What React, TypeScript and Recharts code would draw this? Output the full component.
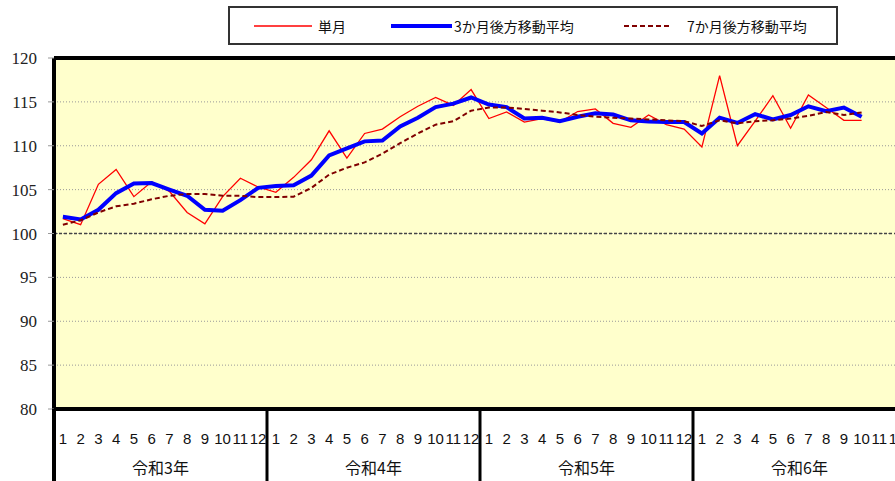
import React from "react";
import {
  ComposedChart,
  Line,
  XAxis,
  YAxis,
  CartesianGrid,
  ReferenceLine,
} from "recharts";

const years = ["令和3年", "令和4年", "令和5年", "令和6年"];
const months = ["1", "2", "3", "4", "5", "6", "7", "8", "9", "10", "11", "12"];
const yTicks = [80, 85, 90, 95, 100, 105, 110, 115, 120];

// 単月
const single = [
  101.7, 101.0, 105.6, 107.3, 104.2, 105.9, 104.8, 102.4, 101.1, 104.2, 106.3, 105.3,
  104.7, 106.4, 108.4, 111.7, 108.6, 111.4, 111.9, 113.3, 114.5, 115.5, 114.6, 116.4,
  113.1, 113.85, 112.7, 113.1, 112.7, 113.9, 114.2, 112.55, 112.1, 113.5, 112.4, 111.9,
  109.85, 118.0, 110.0, 112.8, 115.7, 112.0, 115.8, 114.35, 112.9, 112.9, null, null,
];

// 3か月後方移動平均
const avg3 = [
  101.9, 101.6, 102.7, 104.6, 105.7, 105.75, 105.0, 104.3, 102.7, 102.6, 103.8, 105.2,
  105.4, 105.5, 106.6, 108.9, 109.7, 110.5, 110.6, 112.2, 113.2, 114.4, 114.8, 115.5,
  114.7, 114.4, 113.1, 113.2, 112.8, 113.3, 113.7, 113.55, 112.9, 112.75, 112.7, 112.7,
  111.4, 113.2, 112.6, 113.6, 113.0, 113.5, 114.5, 113.95, 114.35, 113.3, null, null,
];

// 7か月後方移動平均
const avg7 = [
  101.0, 101.5, 102.4, 103.1, 103.4, 103.9, 104.3, 104.5, 104.5, 104.3, 104.3, 104.15,
  104.15, 104.2, 105.2, 106.7, 107.5, 108.1, 109.1, 110.3, 111.4, 112.4, 112.8, 114.0,
  114.35, 114.35, 114.2, 114.0, 113.8, 113.5, 113.3, 113.2, 113.1, 113.0, 112.9, 112.8,
  112.25, 112.9, 112.55, 112.8, 112.9, 113.1, 113.4, 113.85, 113.5, 113.8, null, null,
];

const data = years.flatMap((yr, yi) =>
  months.map((m, mi) => ({
    key: `${yi}-${m}`,
    month: m,
    year: yr,
    single: single[yi * 12 + mi],
    avg3: avg3[yi * 12 + mi],
    avg7: avg7[yi * 12 + mi],
  }))
);

const W = 910;
const H = 481;
const Y_W = 54;
const M_RIGHT = 4;
const BAND = (W - Y_W - M_RIGHT) / data.length;
const X_H = 72;

const sans = '"Noto Sans CJK JP", "Liberation Sans", sans-serif';

const MonthTick = (props: any) => {
  const { x, y, payload } = props;
  const idx = payload.index;
  const row = data[idx];
  const first = idx % 12 === 0;
  return (
    <g>
      <text
        x={x}
        y={y + 29}
        textAnchor="middle"
        dominantBaseline="central"
        fontFamily='"Liberation Sans", sans-serif'
        fontSize={15}
        fill="#111"
      >
        {row.month}
      </text>
      {first && (
        <>
          <line
            x1={x - BAND / 2}
            x2={x - BAND / 2}
            y1={y}
            y2={y + X_H}
            stroke="#000"
            strokeWidth={idx === 0 ? 4 : 3}
          />
          <text
            x={x + BAND * 5.5}
            y={y + 58}
            textAnchor="middle"
            dominantBaseline="central"
            fontFamily={sans}
            fontSize={16}
            fill="#111"
          >
            {row.year}
          </text>
        </>
      )}
    </g>
  );
};

const LegendBox = () => (
  <div
    style={{
      position: "absolute",
      left: 228,
      top: 6,
      width: 606,
      height: 35,
      border: "2px solid #333",
      background: "#fff",
      fontFamily: sans,
      fontSize: 14,
      color: "#111",
    }}
  >
    <svg
      width={606}
      height={35}
      style={{ position: "absolute", left: 0, top: 0 }}
    >
      <line x1={24} x2={82} y1={18} y2={18} stroke="#FF0000" strokeWidth={1.5} />
      <line x1={161} x2={222} y1={18} y2={18} stroke="#0000FF" strokeWidth={4} />
      <line
        x1={394}
        x2={442}
        y1={18}
        y2={18}
        stroke="#800000"
        strokeWidth={2}
        strokeDasharray="5 3"
      />
    </svg>
    <span style={{ position: "absolute", left: 88, top: 8, lineHeight: "20px" }}>単月</span>
    <span style={{ position: "absolute", left: 224, top: 8, lineHeight: "20px" }}>
      3か月後方移動平均
    </span>
    <span style={{ position: "absolute", left: 457, top: 8, lineHeight: "20px" }}>
      7か月後方移動平均
    </span>
  </div>
);

export default function App() {
  return (
    <div
      style={{
        position: "fixed",
        left: 0,
        top: 0,
        width: 895,
        height: H,
        overflow: "hidden",
        background: "#fff",
      }}
    >
      <ComposedChart
        width={W}
        height={H}
        data={data}
        margin={{ top: 58, right: M_RIGHT, left: 0, bottom: 0 }}
      >
        <CartesianGrid
          vertical={false}
          stroke="#999"
          strokeDasharray="1 2"
          fill="#FFFFCC"
          fillOpacity={1}
        />
        <ReferenceLine y={100} stroke="#444" strokeDasharray="3 2" strokeWidth={1.3} />
        <ReferenceLine y={120} stroke="#000" strokeWidth={4} />
        <XAxis
          dataKey="key"
          scale="band"
          interval={0}
          height={X_H}
          tickLine={false}
          tickSize={0}
          tickMargin={0}
          axisLine={{ stroke: "#000", strokeWidth: 4 }}
          tick={<MonthTick />}
        />
        <YAxis
          domain={[80, 120]}
          ticks={yTicks}
          width={Y_W}
          interval={0}
          axisLine={{ stroke: "#000", strokeWidth: 4 }}
          tickLine={{ stroke: "#999" }}
          tickSize={6}
          tickMargin={11}
          tick={{
            fill: "#222",
            fontSize: 17,
            fontFamily: '"Liberation Serif", serif',
          }}
        />
        <Line
          dataKey="single"
          type="linear"
          stroke="#FF0000"
          strokeWidth={1.3}
          dot={false}
          isAnimationActive={false}
        />
        <Line
          dataKey="avg3"
          type="linear"
          stroke="#0000FF"
          strokeWidth={4}
          dot={false}
          isAnimationActive={false}
        />
        <Line
          dataKey="avg7"
          type="linear"
          stroke="#800000"
          strokeWidth={2}
          strokeDasharray="5 3"
          dot={false}
          isAnimationActive={false}
        />
      </ComposedChart>
      <LegendBox />
    </div>
  );
}
